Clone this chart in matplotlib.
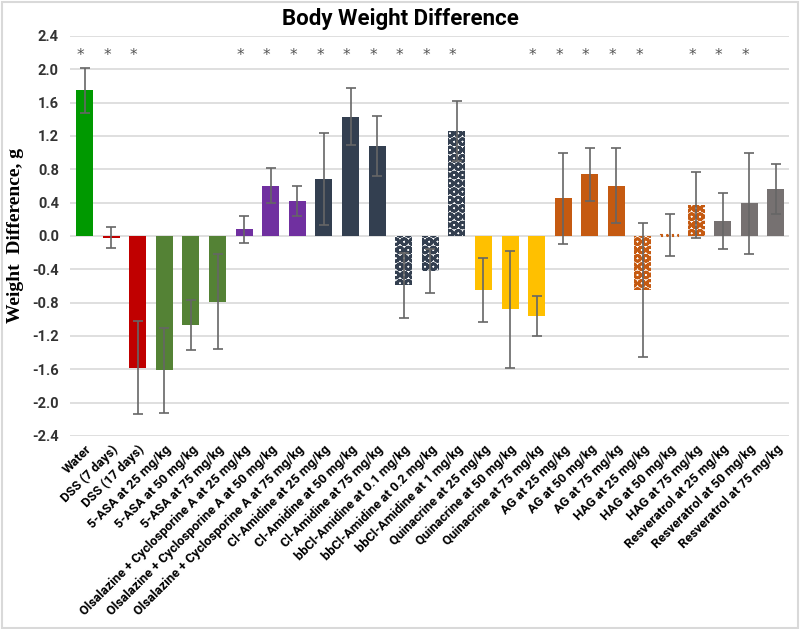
import numpy as np
import matplotlib.pyplot as plt
from matplotlib.patches import Rectangle

# -------------------- DATA --------------------
labels = [
    "Water", "DSS (7 days)", "DSS (17 days)",
    "5-ASA at 25 mg/kg", "5-ASA at 50 mg/kg", "5-ASA at 75 mg/kg",
    "Olsalazine + Cyclosporine A at 25 mg/kg",
    "Olsalazine + Cyclosporine A at 50 mg/kg",
    "Olsalazine + Cyclosporine A at 75 mg/kg",
    "Cl-Amidine at 25 mg/kg", "Cl-Amidine at 50 mg/kg", "Cl-Amidine at 75 mg/kg",
    "bbCl-Amidine at 0.1 mg/kg", "bbCl-Amidine at 0.2 mg/kg", "bbCl-Amidine at 1 mg/kg",
    "Quinacrine at 25 mg/kg", "Quinacrine at 50 mg/kg", "Quinacrine at 75 mg/kg",
    "AG at 25 mg/kg", "AG at 50 mg/kg", "AG at 75 mg/kg",
    "HAG at 25 mg/kg", "HAG at 50 mg/kg", "HAG at 75 mg/kg",
    "Resveratrol at 25 mg/kg", "Resveratrol at 50 mg/kg", "Resveratrol at 75 mg/kg",
]
values = [1.75, -0.02, -1.58,
          -1.61, -1.07, -0.79,
          0.08, 0.60, 0.42,
          0.68, 1.43, 1.08,
          -0.59, -0.42, 1.26,
          -0.65, -0.88, -0.96,
          0.45, 0.74, 0.60,
          -0.65, 0.01, 0.37,
          0.18, 0.39, 0.56]
errors = [0.27, 0.13, 0.56,
          0.51, 0.30, 0.57,
          0.16, 0.21, 0.18,
          0.55, 0.34, 0.36,
          0.39, 0.26, 0.36,
          0.38, 0.70, 0.24,
          0.55, 0.32, 0.45,
          0.80, 0.25, 0.40,
          0.34, 0.61, 0.30]
significant = [0, 1, 2, 6, 7, 8, 9, 10, 11, 12, 13, 14, 17, 18, 19, 20, 21, 23, 24, 25]
yticks = [-2.4, -2.0, -1.6, -1.2, -0.8, -0.4, 0.0, 0.4, 0.8, 1.2, 1.6, 2.0, 2.4]

# -------------------- STYLE --------------------
green = "#009900"
red = "#C00000"
olive = "#548235"
purple = "#7030A0"
navy = "#333F50"
gold = "#FFC000"
orange = "#C55A11"
grey = "#767171"

colors = [green, red, red] + [olive] * 3 + [purple] * 3 + [navy] * 3 + \
         [navy] * 3 + [gold] * 3 + [orange] * 3 + [orange] * 3 + [grey] * 3
patterned = [12, 13, 14, 21, 23]

plt.rcParams["font.family"] = ["Roboto", "DejaVu Sans"]
plt.rcParams["hatch.linewidth"] = 2.0

fig = plt.figure(figsize=(8, 6.29), dpi=100)
ax = fig.add_axes([0.0875, 0.307, 0.899, 0.636])

x = np.arange(len(labels))
for i in x:
    if i in patterned:
        ax.bar(i, values[i], width=0.64, facecolor="white", edgecolor=colors[i],
               hatch="OO", linewidth=0, zorder=2)
    elif i == 22:
        ax.bar(i, values[i], width=0.64, facecolor="white", edgecolor=colors[i],
               linestyle=":", linewidth=1.5, zorder=2)
    else:
        ax.bar(i, values[i], width=0.64, color=colors[i], zorder=2)

ax.errorbar(x, values, yerr=errors, fmt="none", ecolor="#666666",
            elinewidth=1.2, capsize=3.5, capthick=1.2, zorder=3)

for i in significant:
    ax.text(i - 0.15, 2.17, "*", ha="center", va="center", fontsize=11,
            color="#555555", family="DejaVu Sans")

ax.set_ylim(-2.4, 2.4)
ax.set_xlim(-0.55, 26.5)
ax.set_yticks(yticks)
ax.set_yticklabels([f"{v:.1f}" for v in yticks],
                   fontsize=10.5, fontweight="bold", color="#333333")
ax.set_xticks(x)
ax.set_xticklabels(labels, rotation=45, ha="right", rotation_mode="anchor",
                   fontsize=9.3, fontweight="bold")
ax.tick_params(axis="both", length=0)
ax.tick_params(axis="x", pad=5)
ax.tick_params(axis="y", pad=8)
ax.grid(axis="y", color="#D9D9D9", linewidth=1.2, zorder=0)
ax.set_axisbelow(True)
for s in ax.spines.values():
    s.set_visible(False)

ax.set_ylabel("Weight  Difference, g", family="Liberation Serif",
              fontweight="bold", fontsize=14, labelpad=6)
fig.suptitle("Body Weight Difference", fontsize=16, fontweight="bold",
             y=0.987)

# thin frame around the chart
fig.patches.append(Rectangle((0.002, 0.002), 0.995, 0.995, transform=fig.transFigure,
                             fill=False, edgecolor="#D9D9D9", linewidth=1.5))

fig.savefig("out.png", dpi=100)
